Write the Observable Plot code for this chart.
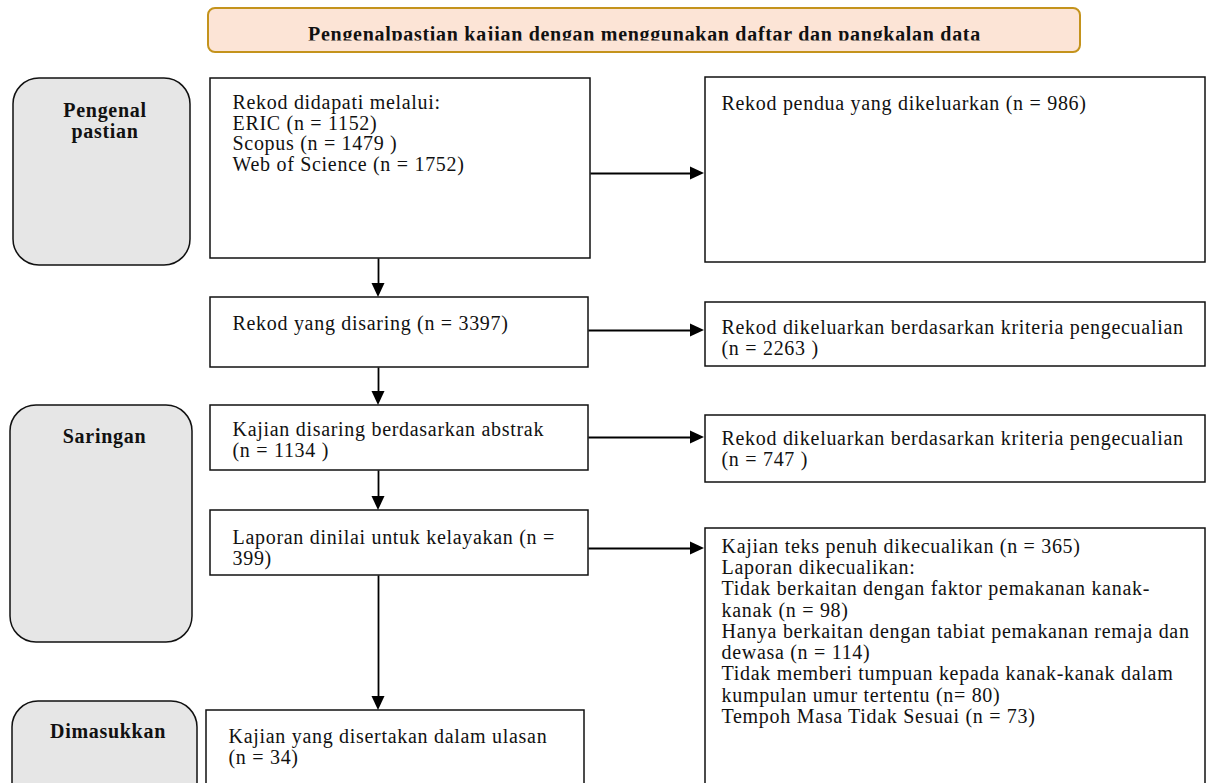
<!DOCTYPE html>
<html>
<head>
<meta charset="utf-8">
<script src="https://cdn.jsdelivr.net/npm/d3@7"></script>
<script src="https://cdn.jsdelivr.net/npm/@observablehq/plot@0.6"></script>
<style>
  html, body { margin: 0; padding: 0; background: #ffffff; overflow: hidden; }
  #chart svg { display: block; }
  #chart svg text { letter-spacing: 0.7px; }
</style>
</head>
<body>
<div id="chart"></div>
<script>
// ---------- DATA ----------
const bannerTitle = "Pengenalpastian kajian dengan menggunakan daftar dan pangkalan data";
const stageLabels = ["Pengenal\npastian", "Saringan", "Dimasukkan"];
const sourceNames = ["ERIC", "Scopus", "Web of Science"];
const sourceCounts = [1152, 1479, 1752];
const duplicateCount = 986;
const flowLabels = ["Rekod yang disaring", "Kajian disaring berdasarkan abstrak", "Laporan dinilai untuk kelayakan", "Kajian yang disertakan dalam ulasan"];
const flowCounts = [3397, 1134, 399, 34];
const excludedLabel = "Rekod dikeluarkan berdasarkan kriteria pengecualian";
const excludedCounts = [2263, 747];
const fullTextExcluded = 365;
const reasonLabels = [
  "Tidak berkaitan dengan faktor pemakanan kanak-\nkanak",
  "Hanya berkaitan dengan tabiat pemakanan remaja dan\ndewasa",
  "Tidak memberi tumpuan kepada kanak-kanak dalam\nkumpulan umur tertentu",
  "Tempoh Masa Tidak Sesuai"
];
const reasonCounts = [98, 114, 80, 73];

// ---------- TEXT CONTENT (built from data) ----------
const mainTexts = [
  `Rekod didapati melalui:\n${sourceNames[0]} (n = ${sourceCounts[0]})\n${sourceNames[1]} (n = ${sourceCounts[1]} )\n${sourceNames[2]} (n = ${sourceCounts[2]})`,
  `${flowLabels[0]} (n = ${flowCounts[0]})`,
  `${flowLabels[1]}\n(n = ${flowCounts[1]} )`,
  `${flowLabels[2]} (n =\n${flowCounts[2]})`,
  `${flowLabels[3]}\n(n = ${flowCounts[3]})`
];
const sideTexts = [
  `Rekod pendua yang dikeluarkan (n = ${duplicateCount})`,
  `${excludedLabel}\n(n = ${excludedCounts[0]} )`,
  `${excludedLabel}\n(n = ${excludedCounts[1]} )`,
  `Kajian teks penuh dikecualikan (n = ${fullTextExcluded})\nLaporan dikecualikan:\n` +
    `${reasonLabels[0]} (n = ${reasonCounts[0]})\n` +
    `${reasonLabels[1]} (n = ${reasonCounts[1]})\n` +
    `${reasonLabels[2]} (n= ${reasonCounts[2]})\n` +
    `${reasonLabels[3]} (n = ${reasonCounts[3]})`
];

// ---------- LAYOUT (diagram geometry, kept apart from the data) ----------
const W = 1211, H = 783;
const banner = {x1: 208, x2: 1080, y1: 8, y2: 52};
const stageBoxes = [
  {x1: 13, x2: 190, y1: 78, y2: 265, ty: 102},
  {x1: 10, x2: 192, y1: 405, y2: 642, ty: 428},
  {x1: 12, x2: 197, y1: 701, y2: 810, ty: 723}
];
const mainBoxes = [
  {x1: 210, x2: 590, y1: 78, y2: 258, ty: 94, ay: 173},
  {x1: 210, x2: 588, y1: 297, y2: 367, ty: 315, ay: 330},
  {x1: 210, x2: 588, y1: 405, y2: 470, ty: 421, ay: 437},
  {x1: 210, x2: 588, y1: 510, y2: 575, ty: 529, ay: 548},
  {x1: 206, x2: 584, y1: 710, y2: 810, ty: 728}
];
const sideBoxes = [
  {x1: 705, x2: 1205, y1: 77, y2: 262, ty: 94},
  {x1: 705, x2: 1205, y1: 302, y2: 366, ty: 318},
  {x1: 705, x2: 1205, y1: 415, y2: 482, ty: 429},
  {x1: 705, x2: 1205, y1: 528, y2: 810, ty: 537}
];
const flowX = 378, headLen = 14, headHalf = 6.5;

// connectors
const lines = [], headsDown = [], headsRight = [];
mainBoxes.slice(0, -1).forEach((b, i) => {
  const tip = mainBoxes[i + 1].y1;
  lines.push({x1: flowX, y1: b.y2, x2: flowX, y2: tip - headLen + 1});
  headsDown.push({z: "d" + i, y: tip - headLen, xa: flowX - headHalf, xb: flowX + headHalf});
  headsDown.push({z: "d" + i, y: tip, xa: flowX, xb: flowX});
});
sideBoxes.forEach((s, i) => {
  const b = mainBoxes[i];
  lines.push({x1: b.x2, y1: b.ay, x2: s.x1 - headLen + 1, y2: b.ay});
  headsRight.push({z: "r" + i, x: s.x1 - headLen - 1, ya: b.ay - headHalf, yb: b.ay + headHalf});
  headsRight.push({z: "r" + i, x: s.x1 - 1, ya: b.ay, yb: b.ay});
});

const serif = "'Liberation Serif', 'Times New Roman', Times, serif";
const fs = 20;

const chart = Plot.plot({
  width: W,
  height: H,
  margin: 0,
  x: {domain: [0, W], range: [0, W], axis: null},
  y: {domain: [0, H], range: [0, H], axis: null},
  style: {background: "#ffffff"},
  marks: [
    // banner
    Plot.rect([banner], {x1: "x1", x2: "x2", y1: "y1", y2: "y2", fill: "#fce4d6", stroke: "#c4931c", strokeWidth: 2, rx: 7}),
    Plot.text([bannerTitle], {x: (banner.x1 + banner.x2) / 2, y: 40, text: d => d, fontFamily: serif, fontWeight: "bold", fontSize: 20, lineAnchor: "bottom", fill: "#111"}),
    // the original's title is clipped just under the baseline
    Plot.rect([banner], {x1: d => d.x1 + 60, x2: d => d.x2 - 60, y1: 40.5, y2: d => d.y2 - 1.5, fill: "#fce4d6"}),
    // stage boxes
    Plot.rect(stageBoxes, {x1: "x1", x2: "x2", y1: "y1", y2: "y2", fill: "#e6e6e6", stroke: "#111", strokeWidth: 1.5, rx: 26}),
    Plot.text(stageBoxes, {x: d => (d.x1 + d.x2) / 2 + 3, y: "ty", text: (d, i) => stageLabels[i], fontFamily: serif, fontWeight: "bold", fontSize: 20, lineAnchor: "top", lineHeight: 1.05, fill: "#111"}),
    // flow boxes
    Plot.rect(mainBoxes, {x1: "x1", x2: "x2", y1: "y1", y2: "y2", fill: "#ffffff", stroke: "#111", strokeWidth: 1.5}),
    Plot.rect(sideBoxes, {x1: "x1", x2: "x2", y1: "y1", y2: "y2", fill: "#ffffff", stroke: "#111", strokeWidth: 1.5}),
    Plot.text(mainBoxes, {x: d => d.x1 + 22, y: "ty", text: (d, i) => mainTexts[i], textAnchor: "start", lineAnchor: "top", lineHeight: 1.03, fontFamily: serif, fontSize: fs, fill: "#111"}),
    Plot.text(sideBoxes, {x: d => d.x1 + 16, y: "ty", text: (d, i) => sideTexts[i], textAnchor: "start", lineAnchor: "top", lineHeight: 1.065, fontFamily: serif, fontSize: fs, fill: "#111"}),
    // connectors
    Plot.link(lines, {x1: "x1", y1: "y1", x2: "x2", y2: "y2", stroke: "#000", strokeWidth: 1.8}),
    Plot.areaX(headsDown, {y: "y", x1: "xa", x2: "xb", z: "z", fill: "#000"}),
    Plot.areaY(headsRight, {x: "x", y1: "ya", y2: "yb", z: "z", fill: "#000"})
  ]
});
document.getElementById("chart").appendChild(chart);
</script>
</body>
</html>
